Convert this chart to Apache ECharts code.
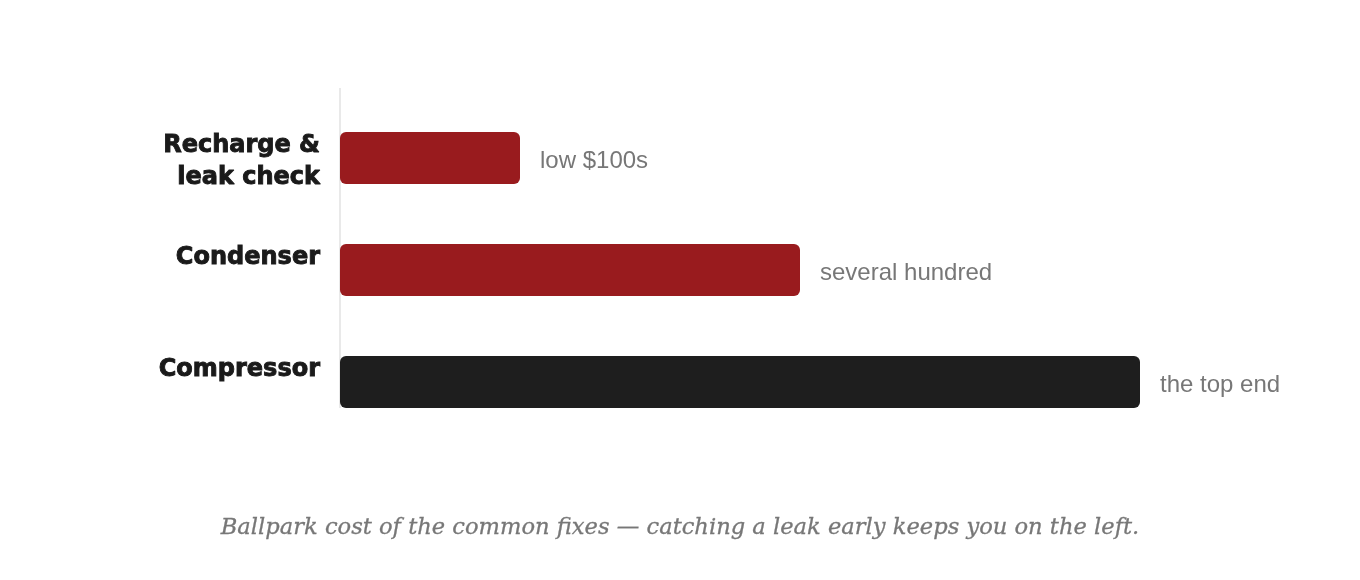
<!DOCTYPE html>
<html>
<head>
<meta charset="utf-8">
<script src="https://cdn.jsdelivr.net/npm/echarts@6/dist/echarts.min.js"></script>
<style>
html,body{margin:0;padding:0;background:#fff;}
#chart{width:1360px;height:580px;}
</style>
</head>
<body>
<div id="chart"></div>
<script>
const categories = ['Recharge &\nleak check', 'Condenser', 'Compressor'];
const values = [22.5, 57.5, 100];
const valueLabels = ['low $100s', 'several hundred', 'the top end'];
const barColors = ['#991b1e', '#991b1e', '#1e1e1e'];
const caption = 'Ballpark cost of the common fixes \u2014 catching a leak early keeps you on the left.';

const labelText = {
  fontFamily: '"DejaVu Sans", sans-serif',
  fontWeight: 'bold',
  fontSize: 24,
  lineHeight: 32,
  color: '#1a1a1a',
  textBorderColor: '#1a1a1a',
  textBorderWidth: 0.9,
  align: 'right'
};

const chart = echarts.init(document.getElementById('chart'), null, {renderer: 'canvas'});
chart.setOption({
  animation: false,
  backgroundColor: '#ffffff',
  title: {
    text: caption,
    left: 'center',
    top: 512,
    textStyle: {
      fontFamily: '"DejaVu Serif", Georgia, serif',
      fontStyle: 'italic',
      fontWeight: 'normal',
      fontSize: 22.6,
      color: '#777777',
      textBorderColor: '#777777',
      textBorderWidth: 0.3
    }
  },
  grid: {left: 340, right: 220, top: 102, bottom: 142, containLabel: false},
  xAxis: {
    type: 'value', min: 0, max: 100,
    show: false
  },
  yAxis: {
    type: 'category',
    data: categories,
    inverse: true,
    axisLine: {show: false},
    axisTick: {show: false},
    splitLine: {show: false},
    axisLabel: {
      margin: 20,
      fontFamily: '"DejaVu Sans", sans-serif',
      fontWeight: 'bold',
      fontSize: 24,
      color: '#1a1a1a',
      align: 'right',
      formatter: v => {
        const lines = v.split('\n');
        if (lines.length < 2) lines.push(' ');
        return '{g|}\n' + lines.map(l => '{t|' + l + '}').join('\n');
      },
      rich: {
        g: {height: 8, lineHeight: 8, fontSize: 8, align: 'right'},
        t: labelText
      }
    }
  },
  graphic: [{
    type: 'line',
    shape: {x1: 340, y1: 88, x2: 340, y2: 408},
    style: {stroke: '#e2e2e2', lineWidth: 1.5},
    z: 0
  }],
  series: [{
    type: 'bar',
    barWidth: 52,
    z: 2,
    data: values.map((v, i) => ({
      value: v,
      itemStyle: {color: barColors[i], borderRadius: 6},
      label: {formatter: valueLabels[i]}
    })),
    label: {
      show: true,
      position: 'right',
      distance: 20,
      offset: [0, 3],
      fontFamily: '"Liberation Sans", Arial, sans-serif',
      fontSize: 24,
      color: '#777777'
    }
  }]
});
</script>
</body>
</html>
